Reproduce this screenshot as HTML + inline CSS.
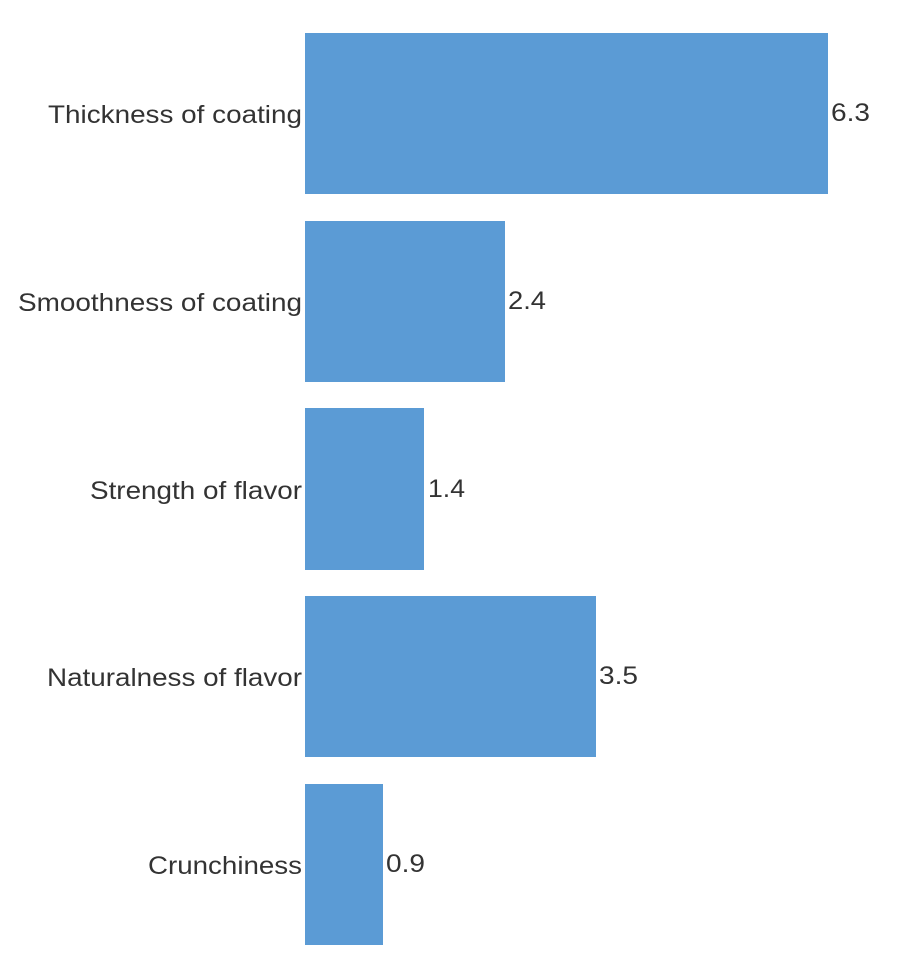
<!DOCTYPE html>
<html><head><style>
body{margin:0;background:#fff;}
svg text{font-family:"Liberation Sans",sans-serif;font-size:25px;fill:#333;}
</style></head><body>
<svg width="906" height="955" xmlns="http://www.w3.org/2000/svg">
<g fill="#5b9bd5">
<rect x="305" y="33" width="523" height="161"/>
<rect x="305" y="221" width="200" height="161"/>
<rect x="305" y="408" width="119" height="162"/>
<rect x="305" y="596" width="291" height="161"/>
<rect x="305" y="784" width="78" height="161"/>
</g>
<text x="48" y="123" textLength="254" lengthAdjust="spacingAndGlyphs">Thickness of coating</text>
<text x="18" y="311" textLength="284" lengthAdjust="spacingAndGlyphs">Smoothness of coating</text>
<text x="90" y="499" textLength="212" lengthAdjust="spacingAndGlyphs">Strength of flavor</text>
<text x="47" y="686" textLength="255" lengthAdjust="spacingAndGlyphs">Naturalness of flavor</text>
<text x="148" y="874" textLength="154" lengthAdjust="spacingAndGlyphs">Crunchiness</text>
<text x="831" y="121" textLength="39" lengthAdjust="spacingAndGlyphs">6.3</text>
<text x="508" y="309" textLength="38" lengthAdjust="spacingAndGlyphs">2.4</text>
<text x="428" y="497" textLength="37" lengthAdjust="spacingAndGlyphs">1.4</text>
<text x="599" y="684" textLength="39" lengthAdjust="spacingAndGlyphs">3.5</text>
<text x="386" y="872" textLength="39" lengthAdjust="spacingAndGlyphs">0.9</text>
</svg>
</body></html>
